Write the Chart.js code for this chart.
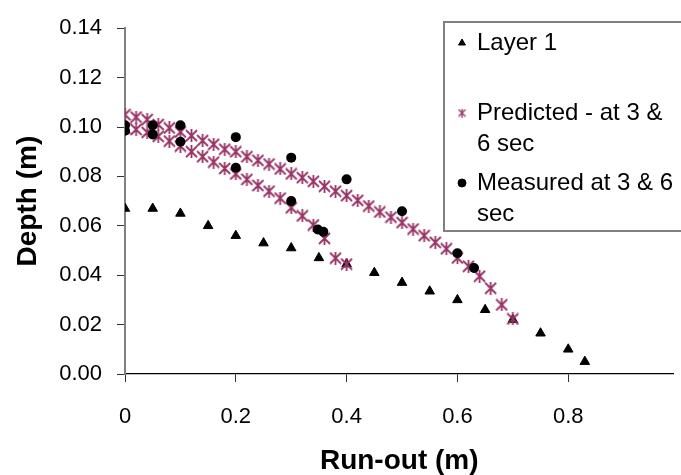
<!DOCTYPE html>
<html>
<head>
<meta charset="utf-8">
<script src="https://cdn.jsdelivr.net/npm/chart.js@4.4.0/dist/chart.umd.min.js"></script>
<style>
  html, body { margin: 0; padding: 0; overflow: hidden; background: #fff; }
  #wrap { width: 681px; height: 475px; position: relative; }
</style>
</head>
<body>
<div id="wrap"><canvas id="chart"></canvas></div>
<script>
// Layer 1 (triangles)
const layer1X = [0, 0.05, 0.1, 0.15, 0.2, 0.25, 0.3, 0.35, 0.4, 0.45, 0.5, 0.55, 0.6, 0.65, 0.7, 0.75, 0.8, 0.83];
const layer1Y = [0.067, 0.067, 0.065, 0.060, 0.056, 0.053, 0.051, 0.047, 0.0445, 0.041, 0.037, 0.0335, 0.030, 0.026, 0.022, 0.0165, 0.010, 0.005];

// Predicted at 3 sec (stars, lower run)
const pred3X = [0, 0.02, 0.04, 0.06, 0.08, 0.1, 0.12, 0.14, 0.16, 0.18, 0.2, 0.22, 0.24, 0.26, 0.28, 0.3, 0.32, 0.34, 0.36, 0.38, 0.4];
const pred3Y = [0.0995, 0.099, 0.0978, 0.0962, 0.0943, 0.0923, 0.090, 0.088, 0.0858, 0.0832, 0.081, 0.0788, 0.0763, 0.074, 0.0712, 0.0673, 0.064, 0.0603, 0.0549, 0.0469, 0.0445];

// Predicted at 6 sec (stars, upper run)
const pred6X = [0, 0.02, 0.04, 0.06, 0.08, 0.1, 0.12, 0.14, 0.16, 0.18, 0.2, 0.22, 0.24, 0.26, 0.28, 0.3, 0.32, 0.34,
                0.36, 0.38, 0.4, 0.42, 0.44, 0.46, 0.48, 0.5, 0.52, 0.54, 0.56, 0.58, 0.6, 0.62, 0.64, 0.66, 0.68, 0.7];
const pred6Y = [0.105, 0.104, 0.103, 0.101, 0.0996, 0.098, 0.0965, 0.0945, 0.093, 0.091, 0.090, 0.088, 0.0865, 0.085, 0.083, 0.081, 0.0795, 0.078,
                0.076, 0.074, 0.0722, 0.0703, 0.068, 0.0656, 0.0635, 0.0613, 0.0587, 0.056, 0.0533, 0.0507, 0.047, 0.0436, 0.0396, 0.0347, 0.028, 0.0223];

// Measured (circles)
const meas3X = [0, 0.05, 0.1, 0.2, 0.3, 0.348, 0.358];
const meas3Y = [0.0985, 0.097, 0.094, 0.0835, 0.070, 0.0585, 0.0576];
const meas6X = [0, 0.05, 0.1, 0.2, 0.3, 0.4, 0.5, 0.6, 0.63];
const meas6Y = [0.1007, 0.1007, 0.1007, 0.0959, 0.0876, 0.0788, 0.0659, 0.0489, 0.0429];

const xTickLabels = ['0', '0.2', '0.4', '0.6', '0.8', '1'];
const yTickLabels = ['0.00', '0.02', '0.04', '0.06', '0.08', '0.10', '0.12', '0.14'];

const seriesLabels = ['Layer 1', 'Predicted - at 3 & 6 sec', 'Measured at 3 & 6 sec'];
// legend text as wrapped in the original box
const legendLines = [['Layer 1'], ['Predicted - at 3 &', '6 sec'], ['Measured at 3 & 6', 'sec']];

const FONT = '"Liberation Sans", Arial, sans-serif';
const PLUM = '#993366';
// the original plot is cut by the right edge just before x = 1
const X_VISIBLE_MAX = 0.99;

function toPoints(xs, ys) {
    return xs.map((x, i) => ({ x: x, y: ys[i] }));
}

// Excel style star: an X with a vertical bar through it
function makeStar(size, lw) {
    const c = document.createElement('canvas');
    c.width = size;
    c.height = size;
    const g = c.getContext('2d');
    g.strokeStyle = PLUM;
    g.lineWidth = lw;
    const m = 1;
    g.beginPath();
    g.moveTo(m, m); g.lineTo(size - m, size - m);
    g.moveTo(size - m, m); g.lineTo(m, size - m);
    g.moveTo(size / 2, 0); g.lineTo(size / 2, size);
    g.stroke();
    return c;
}

const starBig = makeStar(13, 1.8);
const starSmall = makeStar(9, 1.3);

// legend drawn as a box inside the plot, with wrapped lines
const legendBox = {
    id: 'legendBox',
    afterDraw(chart) {
        const ctx = chart.ctx;
        ctx.save();
        ctx.fillStyle = '#fff';
        ctx.fillRect(444, 22, 300, 209);
        ctx.strokeStyle = '#808080';
        ctx.lineWidth = 2;
        ctx.strokeRect(444, 22, 300, 209);

        const rows = [43, 113, 183];
        const markers = [
            { style: 'triangle', r: 4, color: '#000' },
            { style: starSmall, r: 4, color: PLUM },
            { style: 'circle', r: 4, color: '#000' }
        ];
        ctx.font = '24px ' + FONT;
        ctx.textBaseline = 'middle';
        ctx.textAlign = 'left';
        rows.forEach((y, i) => {
            const mk = markers[i];
            ctx.fillStyle = mk.color;
            ctx.strokeStyle = mk.color;
            ctx.lineWidth = 1;
            Chart.helpers.drawPoint(ctx, { pointStyle: mk.style, radius: mk.r, rotation: 0, borderWidth: 1 }, 462, y);
            ctx.fillStyle = '#000';
            legendLines[i].forEach((line, j) => {
                ctx.fillText(line, 477, y + j * 31);
            });
        });
        ctx.restore();
    }
};

const ctx = document.getElementById('chart');

new Chart(ctx, {
    type: 'scatter',
    data: {
        datasets: [
            {
                label: seriesLabels[0],
                data: toPoints(layer1X, layer1Y),
                pointStyle: 'triangle',
                pointRadius: 5.5,
                backgroundColor: '#000',
                borderColor: '#000',
                borderWidth: 1,
                order: 3
            },
            {
                label: seriesLabels[1],
                data: toPoints(pred3X, pred3Y).concat(toPoints(pred6X, pred6Y)),
                pointStyle: starBig,
                pointRadius: 6.5,
                backgroundColor: PLUM,
                borderColor: PLUM,
                order: 2
            },
            {
                label: seriesLabels[2],
                data: toPoints(meas3X, meas3Y).concat(toPoints(meas6X, meas6Y)),
                pointStyle: 'circle',
                pointRadius: 5,
                backgroundColor: '#000',
                borderColor: '#000',
                borderWidth: 0,
                order: 1
            }
        ]
    },
    options: {
        responsive: true,
        maintainAspectRatio: false,
        animation: false,
        layout: { padding: { top: 23.5, right: 0, left: 0, bottom: 0 } },
        plugins: {
            legend: { display: false },
            tooltip: { enabled: false }
        },
        scales: {
            x: {
                type: 'linear',
                min: 0,
                max: X_VISIBLE_MAX,
                afterFit: (scale) => { scale.height = 101; },
                border: { display: true, color: '#000', width: 1.3 },
                grid: { drawOnChartArea: false, drawTicks: true, tickLength: 8, color: '#333', lineWidth: 1 },
                ticks: {
                    stepSize: 0.2,
                    includeBounds: false,
                    autoSkip: false,
                    maxRotation: 0,
                    padding: 22,
                    color: '#000',
                    font: { family: FONT, size: 22 },
                    callback: (v, i) => xTickLabels[i]
                },
                title: {
                    display: true,
                    text: 'Run-out (m)',
                    color: '#000',
                    font: { family: FONT, size: 28, weight: 'bold', lineHeight: 1 },
                    padding: { top: 0, bottom: 0 }
                }
            },
            y: {
                type: 'linear',
                min: 0,
                max: 0.14,
                afterFit: (scale) => { scale.width = 125; },
                border: { display: true, color: '#808080', width: 2 },
                grid: { drawOnChartArea: false, drawTicks: true, tickLength: 8, color: '#333', lineWidth: 1 },
                ticks: {
                    stepSize: 0.02,
                    autoSkip: false,
                    padding: 15,
                    color: '#000',
                    font: { family: FONT, size: 22 },
                    callback: (v, i) => yTickLabels[i]
                },
                title: {
                    display: true,
                    text: 'Depth (m)',
                    color: '#000',
                    font: { family: FONT, size: 28, weight: 'bold', lineHeight: 1 },
                    padding: { top: 14, bottom: 0 }
                }
            }
        }
    },
    plugins: [legendBox]
});
</script>
</body>
</html>
